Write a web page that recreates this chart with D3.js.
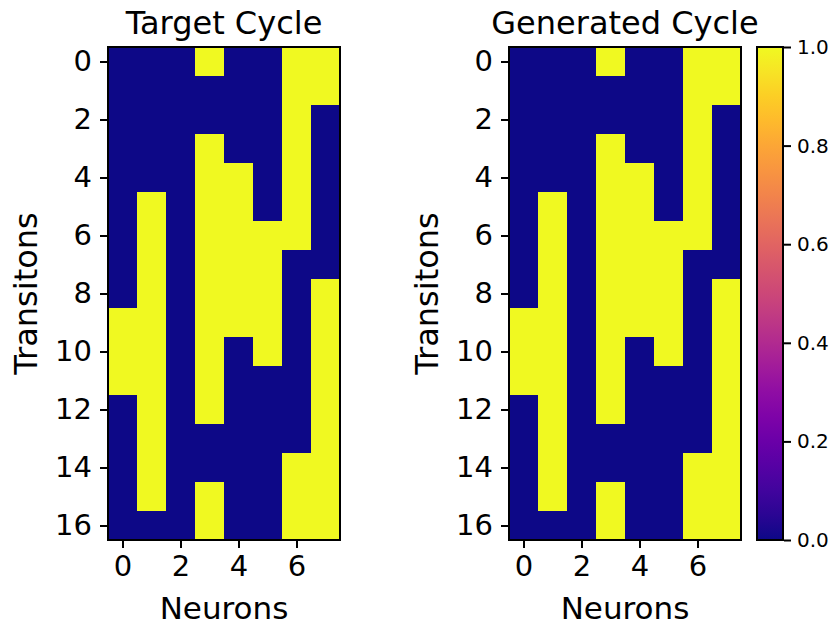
<!DOCTYPE html>
<html><head><meta charset="utf-8">
<script src="https://cdn.jsdelivr.net/npm/d3@7"></script>
<style>body{margin:0;background:#fff}svg{display:block}text{font-family:"DejaVu Sans",sans-serif;fill:#000}</style>
</head><body><svg id="c" width="837" height="626"></svg>
<script>
const neurons = [0,1,2,3,4,5,6,7];
const transitions = d3.range(17);
const targetCycle = [
 [0,0,0,1,0,0,1,1],
 [0,0,0,0,0,0,1,1],
 [0,0,0,0,0,0,1,0],
 [0,0,0,1,0,0,1,0],
 [0,0,0,1,1,0,1,0],
 [0,1,0,1,1,0,1,0],
 [0,1,0,1,1,1,1,0],
 [0,1,0,1,1,1,0,0],
 [0,1,0,1,1,1,0,1],
 [1,1,0,1,1,1,0,1],
 [1,1,0,1,0,1,0,1],
 [1,1,0,1,0,0,0,1],
 [0,1,0,1,0,0,0,1],
 [0,1,0,0,0,0,0,1],
 [0,1,0,0,0,0,1,1],
 [0,1,0,1,0,0,1,1],
 [0,0,0,1,0,0,1,1]
];
const generatedCycle = [
 [0,0,0,1,0,0,1,1],
 [0,0,0,0,0,0,1,1],
 [0,0,0,0,0,0,1,0],
 [0,0,0,1,0,0,1,0],
 [0,0,0,1,1,0,1,0],
 [0,1,0,1,1,0,1,0],
 [0,1,0,1,1,1,1,0],
 [0,1,0,1,1,1,0,0],
 [0,1,0,1,1,1,0,1],
 [1,1,0,1,1,1,0,1],
 [1,1,0,1,0,1,0,1],
 [1,1,0,1,0,0,0,1],
 [0,1,0,1,0,0,0,1],
 [0,1,0,0,0,0,0,1],
 [0,1,0,0,0,0,1,1],
 [0,1,0,1,0,0,1,1],
 [0,0,0,1,0,0,1,1]
];
const xTicks = [0,2,4,6];
const yTicks = [0,2,4,6,8,10,12,14,16];
const cbarTicks = [0,0.2,0.4,0.6,0.8,1.0];
const titles = ["Target Cycle","Generated Cycle"];

(function(){
const svg = d3.select("#c");
const color = d3.scaleSequential(d3.interpolatePlasma).domain([0,1]);
const yTop = 47, yBot = 540;
const panels = [{x0:108, x1:340, data:targetCycle, title:titles[0]},
                {x0:509, x1:741, data:generatedCycle, title:titles[1]}];

panels.forEach(p => {
  const x = d3.scaleLinear().domain([-0.5, neurons.length - 0.5]).range([p.x0, p.x1]);
  const y = d3.scaleLinear().domain([-0.5, transitions.length - 0.5]).range([yTop, yBot]);
  const g = svg.append("g");
  const cells = [];
  p.data.forEach((row, r) => row.forEach((v, c) => cells.push({r, c, v})));
  g.selectAll("rect.cell").data(cells).join("rect")
    .attr("x", d => x(d.c - 0.5)).attr("y", d => y(d.r - 0.5))
    .attr("width", x(1) - x(0) + 0.5).attr("height", y(1) - y(0) + 0.5)
    .attr("fill", d => color(d.v)).attr("shape-rendering", "crispEdges");
  g.append("rect").attr("x", p.x0).attr("y", yTop).attr("width", p.x1 - p.x0).attr("height", yBot - yTop)
    .attr("fill", "none").attr("stroke", "#000").attr("stroke-width", 2);
  const xa = g.append("g").attr("transform", `translate(0,${yBot+1})`)
    .call(d3.axisBottom(x).tickValues(xTicks).tickSize(7).tickPadding(7).tickFormat(d3.format("d")));
  const ya = g.append("g").attr("transform", `translate(${p.x0-1},0)`)
    .call(d3.axisLeft(y).tickValues(yTicks).tickSize(7).tickPadding(8).tickFormat(d3.format("d")));
  [xa, ya].forEach(a => {
    a.select(".domain").remove();
    a.selectAll("line").attr("stroke", "#000").attr("stroke-width", 2);
    a.selectAll("text").attr("font-size", 29).attr("font-family", "DejaVu Sans");
  });
  g.append("text").attr("x", (p.x0 + p.x1) / 2).attr("y", 34).attr("text-anchor", "middle")
    .attr("font-size", 32).text(p.title);
  g.append("text").attr("x", (p.x0 + p.x1) / 2).attr("y", 619).attr("text-anchor", "middle")
    .attr("font-size", 31).text("Neurons");
  g.append("text").attr("transform", `translate(${p.x0 - 71},${(yTop + yBot) / 2}) rotate(-90)`)
    .attr("text-anchor", "middle").attr("font-size", 32).text("Transitons");
});

const cbX0 = 757, cbX1 = 783;
const cy = d3.scaleLinear().domain([0,1]).range([yBot, yTop]);
const defs = svg.append("defs");
const grad = defs.append("linearGradient").attr("id", "plasma").attr("x1", 0).attr("y1", 1).attr("x2", 0).attr("y2", 0);
d3.range(0, 1.0001, 0.05).forEach(t => grad.append("stop").attr("offset", t).attr("stop-color", color(t)));
svg.append("rect").attr("x", cbX0).attr("y", yTop).attr("width", cbX1 - cbX0).attr("height", yBot - yTop)
  .attr("fill", "url(#plasma)").attr("stroke", "#000").attr("stroke-width", 2);
const ca = svg.append("g").attr("transform", `translate(${cbX1+1},0)`)
  .call(d3.axisRight(cy).tickValues(cbarTicks).tickSize(7).tickPadding(6).tickFormat(d3.format(".1f")));
ca.select(".domain").remove();
ca.selectAll("line").attr("stroke", "#000").attr("stroke-width", 2);
ca.selectAll("text").attr("font-size", 20).attr("font-family", "DejaVu Sans");
})();
</script></body></html>
